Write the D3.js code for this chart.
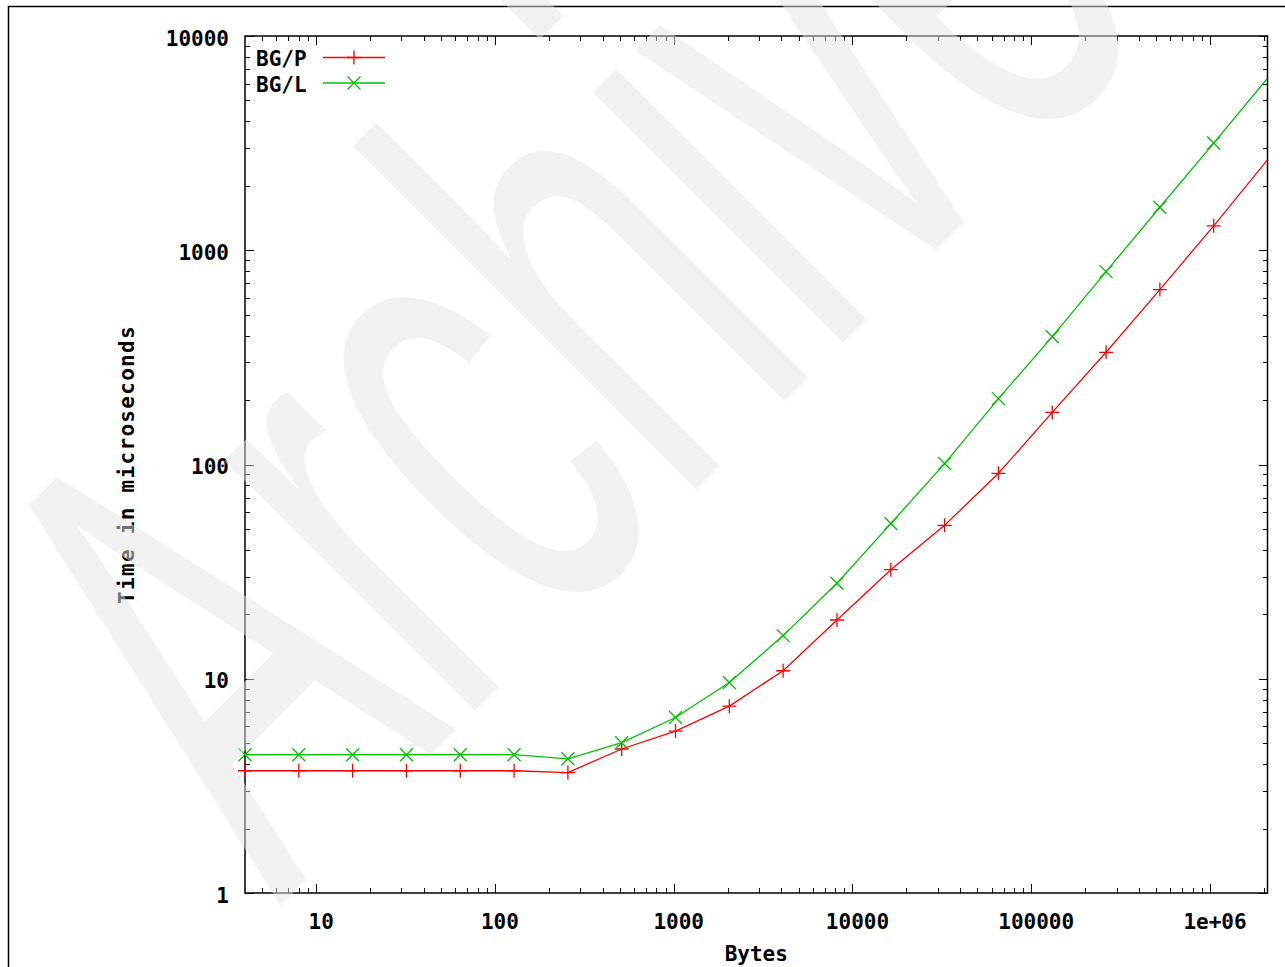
<!DOCTYPE html>
<html>
<head>
<meta charset="utf-8">
<script src="https://cdn.jsdelivr.net/npm/d3@7"></script>
<style>
  html, body { margin: 0; padding: 0; background: #fff; overflow: hidden; }
  svg { display: block; }
  .lbl { font-family: "DejaVu Sans Mono", "Liberation Mono", monospace; font-weight: bold; font-size: 21px; fill: #000; }
</style>
</head>
<body>
<svg id="chart"></svg>
<script>
// --- Data ---
const bytes = [4, 8, 16, 32, 64, 128, 256, 512, 1024, 2048, 4096, 8192, 16384,
               32768, 65536, 131072, 262144, 524288, 1048576, 2097152];
const bgp = [3.72, 3.72, 3.72, 3.72, 3.72, 3.72, 3.65, 4.7, 5.7, 7.45, 10.9, 18.8, 32.3,
             52, 91, 175, 334, 655, 1300, 2640];
const bgl = [4.42, 4.42, 4.42, 4.42, 4.42, 4.42, 4.23, 5.03, 6.59, 9.6, 15.9, 27.9, 53,
             101, 203, 395, 795, 1588, 3164, 6350];
const seriesNames = ["BG/P", "BG/L"];
const xTicks = [10, 100, 1000, 10000, 100000, 1000000];
const xTickLabels = ["10", "100", "1000", "10000", "100000", "1e+06"];
const yTicks = [1, 10, 100, 1000, 10000];
const yTickLabels = ["1", "10", "100", "1000", "10000"];

(function () {
  const W = 1285, H = 967;
  const left = 245, right = 1267.5, top = 36, bottom = 893;

  const svg = d3.select("#chart").attr("width", W).attr("height", H);

  const x = d3.scaleLog().domain([4, 2097152]).range([left, right]);
  const y = d3.scaleLog().domain([1, 10000]).range([bottom, top]);

  // outer frame of the screenshot
  svg.append("rect")
    .attr("x", 8.5).attr("y", 6.5).attr("width", 1400).attr("height", 1100)
    .attr("fill", "none").attr("stroke", "#000").attr("stroke-width", 1.5);

  svg.append("clipPath").attr("id", "plotclip")
    .append("rect").attr("x", left).attr("y", top)
    .attr("width", right - left).attr("height", bottom - top);

  // minor / major ticks for log axes
  const minorX = [], minorY = [];
  for (let e = 0; e <= 6; e++) for (let m = 2; m <= 9; m++) {
    const v = m * Math.pow(10, e);
    if (v > 4 && v < 2097152) minorX.push(v);
  }
  for (let e = 0; e <= 3; e++) for (let m = 2; m <= 9; m++) minorY.push(m * Math.pow(10, e));

  const tk = svg.append("g").attr("stroke", "#000").attr("stroke-width", 1).attr("shape-rendering", "crispEdges");
  function xt(vals, len) {
    vals.forEach(v => {
      const px = Math.round(x(v)) + 0.5;
      tk.append("line").attr("x1", px).attr("x2", px).attr("y1", bottom).attr("y2", bottom - len);
      tk.append("line").attr("x1", px).attr("x2", px).attr("y1", top).attr("y2", top + len);
    });
  }
  function yt(vals, len) {
    vals.forEach(v => {
      const py = Math.round(y(v)) + 0.5;
      tk.append("line").attr("y1", py).attr("y2", py).attr("x1", left).attr("x2", left + len);
      tk.append("line").attr("y1", py).attr("y2", py).attr("x1", right).attr("x2", right - len);
    });
  }
  xt(xTicks, 9); xt(minorX, 5);
  yt(yTicks, 9); yt(minorY, 5);

  // plot border
  svg.append("rect")
    .attr("x", left).attr("y", top).attr("width", right - left).attr("height", bottom - top)
    .attr("fill", "none").attr("stroke", "#000").attr("stroke-width", 1.5);

  // tick labels
  svg.selectAll("text.xl").data(xTicks).enter().append("text")
    .attr("class", "lbl xl")
    .attr("x", d => x(d) + 5).attr("y", bottom + 36)
    .attr("text-anchor", "middle")
    .text((d, i) => xTickLabels[i]);

  svg.selectAll("text.yl").data(yTicks).enter().append("text")
    .attr("class", "lbl yl")
    .attr("x", 229).attr("y", d => y(d) + 9.5)
    .attr("text-anchor", "end")
    .text((d, i) => yTickLabels[i]);

  // axis titles
  svg.append("text").attr("class", "lbl")
    .attr("x", (left + right) / 2).attr("y", 961)
    .attr("text-anchor", "middle").text("Bytes");
  svg.append("text").attr("class", "lbl")
    .attr("transform", `translate(134,${(top + bottom) / 2}) rotate(-90)`)
    .attr("text-anchor", "middle").style("letter-spacing", "1.3px")
    .text("Time in microseconds");

  // series
  const series = [
    { name: seriesNames[0], values: bgp, color: "#ff0000", mark: "plus" },
    { name: seriesNames[1], values: bgl, color: "#00c000", mark: "cross" }
  ];
  const line = d3.line().x(d => x(d[0])).y(d => y(d[1]));

  function marker(g, cx, cy, kind, color) {
    const p = g.append("path").attr("fill", "none").attr("stroke", color).attr("stroke-width", 1.3);
    if (kind === "plus") {
      const s = 7;
      p.attr("d", `M${cx - s},${cy}H${cx + s}M${cx},${cy - s}V${cy + s}`);
    } else {
      const s = 6.5;
      p.attr("d", `M${cx - s},${cy - s}L${cx + s},${cy + s}M${cx - s},${cy + s}L${cx + s},${cy - s}`);
    }
  }

  series.forEach(s => {
    const pts = bytes.map((b, i) => [b, s.values[i]]);
    svg.append("path")
      .attr("clip-path", "url(#plotclip)")
      .attr("d", line(pts))
      .attr("fill", "none").attr("stroke", s.color).attr("stroke-width", 1.3);
    const g = svg.append("g");
    pts.filter(p => p[0] < 2097152).forEach(p => marker(g, x(p[0]), y(p[1]), s.mark, s.color));
  });

  // legend
  series.forEach((s, i) => {
    const ly = 57.5 + i * 25.5;
    svg.append("text").attr("class", "lbl").attr("x", 256).attr("y", ly + 8.5).text(s.name);
    svg.append("line").attr("x1", 323).attr("x2", 385).attr("y1", ly).attr("y2", ly)
      .attr("stroke", s.color).attr("stroke-width", 1.3);
    marker(svg.append("g"), 354, ly, s.mark, s.color);
  });

  // watermark on top, semi-transparent
  svg.append("text")
    .attr("transform", "translate(280,906) rotate(-45) scale(0.56,1)")
    .attr("font-family", "Liberation Sans, Arial, sans-serif")
    .attr("font-size", 670)
    .attr("fill", "#e4e4e4").attr("fill-opacity", 0.5)
    .text("Archive");
})();
</script>
</body>
</html>
